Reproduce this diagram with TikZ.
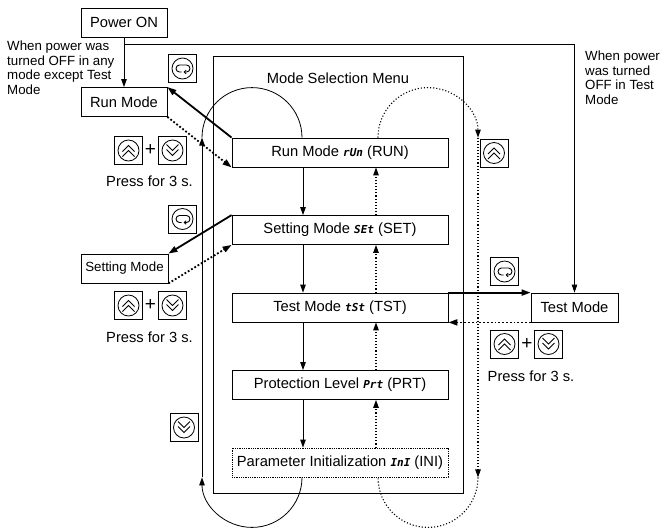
\documentclass[tikz,border=0pt]{standalone}
\usepackage{fontspec}
\setmainfont{Liberation Sans}
\newfontfamily\segfont{DejaVu Sans Mono}
\usetikzlibrary{arrows.meta}
\newcommand\bigtxt{\fontsize{14.7}{17}\selectfont}
\newcommand\smalltxt{\fontsize{13.3}{14.5}\selectfont}
\newcommand\plustxt{\fontsize{19}{19}\selectfont}
\newcommand\segtxt[1]{{\segfont\bfseries\itshape\fontsize{11}{11}\selectfont #1}}
\tikzset{
  mbox/.style={draw, line width=0.8pt, minimum width=216pt, minimum height=29pt, inner sep=0pt},
  sbox/.style={draw, line width=0.8pt, minimum width=86pt, minimum height=29pt, inner sep=0pt},
  thin arr/.style={line width=0.8pt, -{Triangle[length=8pt,width=5.5pt]}},
  thin dots/.style={line width=1.1pt, dash pattern=on 1.1pt off 2pt},
  thick arr/.style={line width=1.8pt, -{Triangle[length=9pt,width=6pt]}},
  keybox/.style={draw, line width=0.8pt, minimum size=28pt, inner sep=0pt},
  upkey/.style={keybox, path picture={
      \begin{scope}[shift={(path picture bounding box.center)}]
        \draw[line width=0.8pt] (0,0) circle (10.5pt);
        \draw[line width=1pt] (-6,1) -- (0,-5) -- (6,1) (-6,6) -- (0,0) -- (6,6);
      \end{scope}}},
  downkey/.style={keybox, path picture={
      \begin{scope}[shift={(path picture bounding box.center)}]
        \draw[line width=0.8pt] (0,0) circle (10.5pt);
        \draw[line width=1pt] (-6,-1) -- (0,5) -- (6,-1) (-6,-6) -- (0,0) -- (6,-6);
      \end{scope}}},
  modekey/.style={keybox, path picture={
      \begin{scope}[shift={(path picture bounding box.center)}]
        \draw[line width=0.8pt] (0,0) circle (10.5pt);
        \draw[line width=0.9pt, -{Straight Barb[length=2pt,width=3.5pt]}] (-1,3.5) -- (-3,3.5)
          arc[start angle=270, end angle=90, radius=3.5pt] -- (4,-3.5)
          arc[start angle=90, end angle=-90, radius=3.5pt] -- (1,3.5);
      \end{scope}}},
}
\begin{document}
\begin{tikzpicture}[x=1pt, y=-1pt, font=\bigtxt]
  \useasboundingbox (0,0) rectangle (672,528);
  \node[sbox]                (pwr) at (124,22.5) {Power ON};
  \node[sbox]                (runL) at (124,102) {Run Mode};
  \node[sbox, minimum width=87pt, font=\smalltxt] (setL) at (124.5,268.5) {Setting Mode};
  \node[sbox, minimum width=87pt] (tstR) at (574.5,307.5) {Test Mode};
  \node[align=left, anchor=north west, inner sep=0pt, font=\smalltxt] (offany) at (7,41)
    {When power was\\turned OFF in any\\mode except Test\\Mode};
  \node[align=left, anchor=north west, inner sep=0pt, font=\smalltxt] (offtest) at (585,51)
    {When power\\was turned\\OFF in Test\\Mode};
  \node[draw, line width=0.8pt, minimum width=250pt, minimum height=437pt] (menu) at (338,274.5) {};
  \node                      (title) at (338,78) {Mode Selection Menu};
  \foreach \nm/\y/\sty/\txt in {run/152.5/solid/{Run Mode \segtxt{rUn} (RUN)},
      set/230/solid/{Setting Mode \segtxt{SEt} (SET)},
      tst/307.5/solid/{Test Mode \segtxt{tSt} (TST)},
      prt/385/solid/{Protection Level \segtxt{Prt} (PRT)},
      ini/462.5/densely dotted/{Parameter Initialization \segtxt{InI} (INI)}} {
    \node[mbox, \sty] (\nm) at (340,\y) {\txt};
  }
  \foreach \a/\b in {run/set, set/tst, tst/prt, prt/ini} {
    \draw[thin arr]            ([xshift=-37pt]\a.south) -- ([xshift=-37pt]\b.north);
    \draw[thin arr, thin dots] ([xshift=36pt]\b.north) -- ([xshift=36pt]\a.south);
  }
  \draw[thin arr]           ([xshift=-38pt]ini.south) arc[start angle=0, end angle=-180, radius=50pt];
  \draw[thin arr]           ([xshift=-138pt]ini.south) -- ([xshift=-138pt]run.north);
  \draw[line width=0.8pt]   ([xshift=-138pt]run.north) arc[start angle=180, end angle=0, radius=50pt];
  \draw[thin arr, thin dots] ([xshift=38pt]run.north) arc[start angle=180, end angle=0, radius=50pt];
  \draw[thin arr, thin dots] ([xshift=138pt]run.north) -- ([xshift=138pt]ini.south);
  \draw[thin dots]          ([xshift=138pt]ini.south) arc[start angle=0, end angle=-180, radius=50pt];
  \coordinate (split) at (124,44);
  \draw[thin arr]           (pwr) -- (runL);
  \draw[thin arr]           (split) -| (tstR.north);
  \draw[thick arr]          (run.north west) -- (runL.north east);
  \draw[thick arr, dotted]  (runL.south east) -- (run.south west);
  \draw[thick arr]          (set.north west) -- (setL.north east);
  \draw[thick arr, dotted]  (setL.south east) -- (set.south west);
  \draw[thick arr]          (tst.north east) -- (tstR.north west);
  \draw[thick arr, dotted]  (tstR.south west) -- (tst.south east);
  \node[modekey]             (mk1) at (182.5,68.5) {};
  \node[upkey]               (up1) at (128.5,150.5) {};
  \node[font=\plustxt]       (plus1) at (150.5,150.5) {+};
  \node[downkey]             (dn1) at (172.5,150.5) {};
  \node                      (press1) at (149.5,181) {Press for 3 s.};
  \node[modekey]             (mk2) at (182.5,219) {};
  \node[upkey]               (up2) at (128.5,305.5) {};
  \node[font=\plustxt]       (plus2) at (150.5,305.5) {+};
  \node[downkey]             (dn2) at (172.5,305.5) {};
  \node                      (press2) at (149.5,337) {Press for 3 s.};
  \node[downkey]             (dn3) at (184,427.5) {};
  \node[upkey]               (up3) at (494,153) {};
  \node[modekey]             (mk3) at (504.5,271.5) {};
  \node[upkey]               (up4) at (504.5,344) {};
  \node[font=\plustxt]       (plus4) at (527,344) {+};
  \node[downkey]             (dn4) at (548.5,344) {};
  \node                      (press3) at (531,376) {Press for 3 s.};
\end{tikzpicture}
\end{document}
